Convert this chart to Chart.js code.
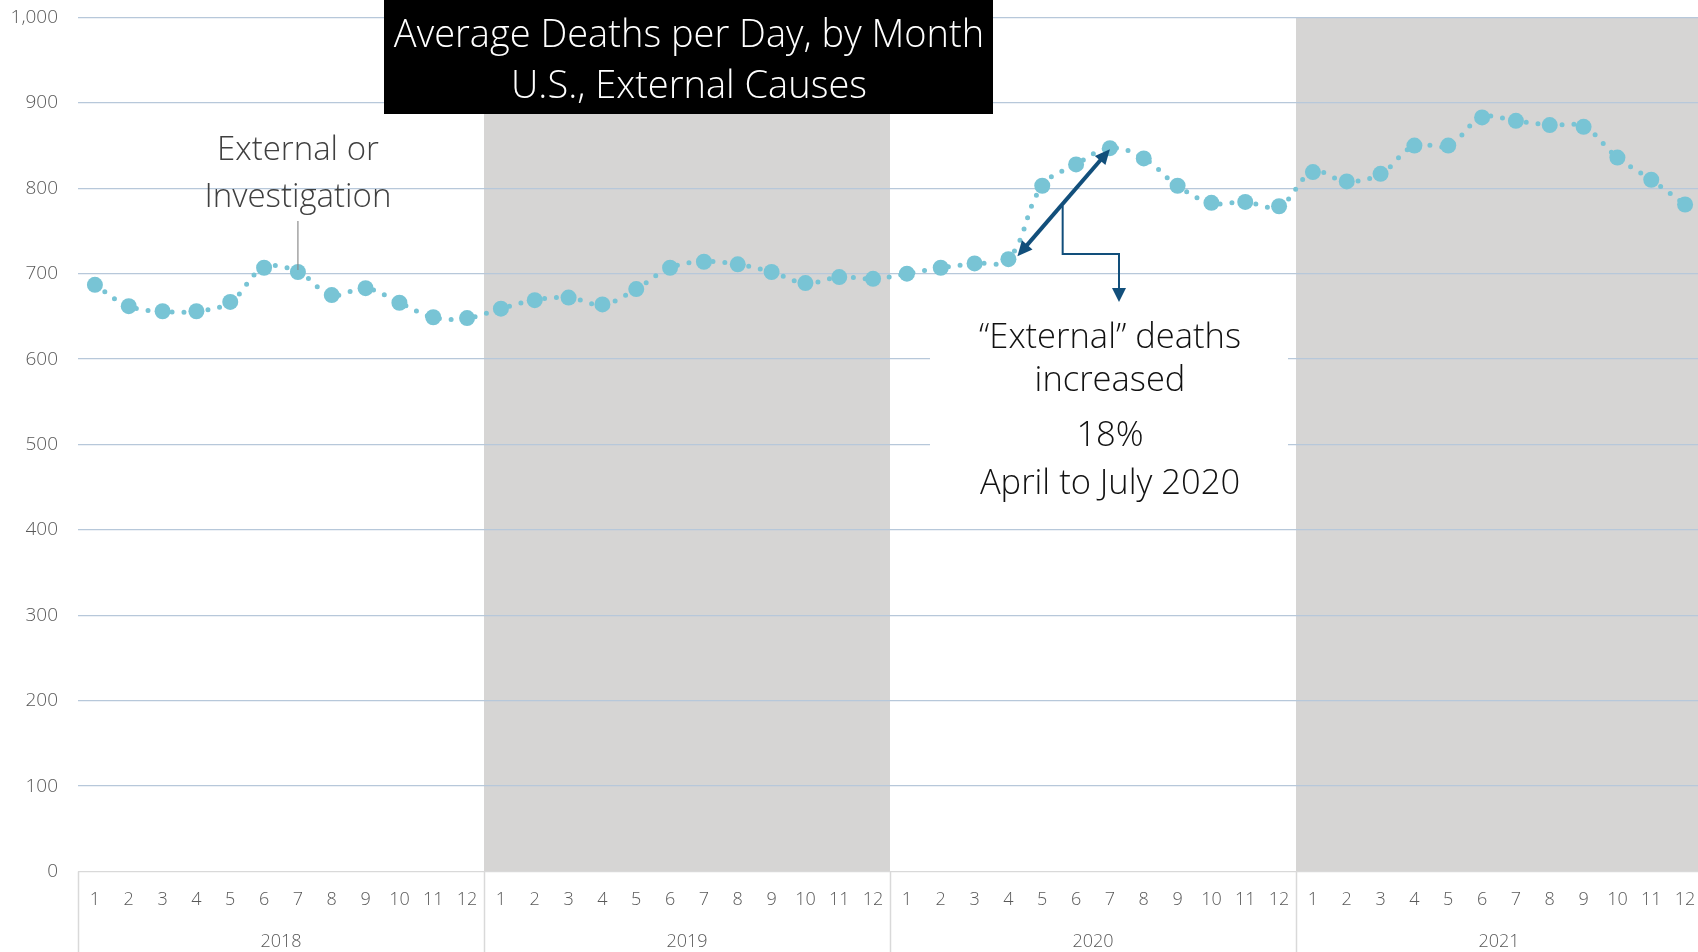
<!DOCTYPE html>
<html>
<head>
<meta charset="utf-8">
<script src="https://cdn.jsdelivr.net/npm/chart.js@4.4.1/dist/chart.umd.min.js"></script>
<style>
  html, body { margin: 0; padding: 0; background: #fff; overflow: hidden; }
  #wrap { width: 1698px; height: 952px; overflow: hidden; }
</style>
</head>
<body>
<div id="wrap"><canvas id="deathsChart" width="1702" height="952"></canvas></div>
<script>
const years = ['2018', '2019', '2020', '2021'];
const months = ['1', '2', '3', '4', '5', '6', '7', '8', '9', '10', '11', '12'];

// average deaths per day, external causes
const deaths2018 = [687, 662, 656, 656, 667, 707, 702, 675, 683, 666, 649, 648];
const deaths2019 = [659, 669, 672, 664, 682, 707, 714, 711, 702, 689, 696, 694];
const deaths2020 = [700, 707, 712, 717, 803, 828, 847, 835, 803, 783, 784, 779];
const deaths2021 = [819, 808, 817, 850, 850, 883, 879, 874, 872, 836, 810, 781];

const monthLabels = years.flatMap(() => months);
const deaths = [...deaths2018, ...deaths2019, ...deaths2020, ...deaths2021];

const shadedYears = ['2019', '2021'];
const titleLines = ['Average Deaths per Day, by Month', 'U.S., External Causes'];
const leftNote = ['External or', 'Investigation'];
const rightNote = ['\u201cExternal\u201d deaths', 'increased', '18%', 'April to July 2020'];

const FONT = '"Open Sans", "DejaVu Sans", sans-serif';
const lineColor = '#78c4d5';
const arrowColor = '#124f7b';

function arrowHead(ctx, tx, ty, ang, len, wid) {
    ctx.beginPath();
    ctx.moveTo(tx, ty);
    ctx.lineTo(tx - len * Math.cos(ang) + wid / 2 * Math.sin(ang), ty - len * Math.sin(ang) - wid / 2 * Math.cos(ang));
    ctx.lineTo(tx - len * Math.cos(ang) - wid / 2 * Math.sin(ang), ty - len * Math.sin(ang) + wid / 2 * Math.cos(ang));
    ctx.closePath();
    ctx.fill();
}

const decor = {
    id: 'decor',
    beforeDraw(chart) {
        const { ctx, chartArea: a, scales: { x } } = chart;
        const step = x.getPixelForValue(1) - x.getPixelForValue(0);
        ctx.save();
        ctx.fillStyle = '#d6d5d4';
        shadedYears.forEach(yr => {
            const i = years.indexOf(yr) * 12;
            const x0 = x.getPixelForValue(i) - step / 2;
            ctx.fillRect(x0, a.top, step * 12, a.bottom - a.top);
        });
        ctx.restore();
    },
    beforeDatasetsDraw(chart) {
        const { ctx } = chart;
        // white box behind the annotation text
        ctx.save();
        ctx.fillStyle = '#ffffff';
        ctx.fillRect(930, 318, 358, 195);
        ctx.restore();
    },
    afterDraw(chart) {
        const { ctx, chartArea: a, scales: { x, y } } = chart;
        const step = x.getPixelForValue(1) - x.getPixelForValue(0);
        ctx.save();

        // year separators under the axis
        ctx.strokeStyle = '#d9d9d9';
        ctx.lineWidth = 1.5;
        for (let k = 0; k <= years.length; k++) {
            const px = Math.round(x.getPixelForValue(k * 12) - step / 2) + 0.5;
            ctx.beginPath();
            ctx.moveTo(px, a.bottom);
            ctx.lineTo(px, chart.height);
            ctx.stroke();
        }

        // title box
        ctx.fillStyle = '#000';
        ctx.fillRect(384, 0, 609, 114);
        ctx.fillStyle = '#fff';
        ctx.font = '300 38px ' + FONT;
        ctx.textAlign = 'center';
        ctx.textBaseline = 'middle';
        ctx.fillText(titleLines[0], 689, 36);
        ctx.fillText(titleLines[1], 689, 87);

        // left note with leader line to July 2018
        const jx = x.getPixelForValue(6);
        const jy = y.getPixelForValue(deaths[6]);
        ctx.fillStyle = '#404040';
        ctx.font = '300 33px ' + FONT;
        ctx.fillText(leftNote[0], jx, 151);
        ctx.fillText(leftNote[1], jx, 198);
        ctx.strokeStyle = '#8c8c8c';
        ctx.lineWidth = 1.2;
        ctx.beginPath();
        ctx.moveTo(jx, 221);
        ctx.lineTo(jx, jy - 2);
        ctx.stroke();

        // double arrow April -> July 2020
        const ax = x.getPixelForValue(27) + 9, ay = y.getPixelForValue(deaths[27]) - 3;
        const bx = x.getPixelForValue(30), by = y.getPixelForValue(deaths[30]) + 1;
        const ang = Math.atan2(by - ay, bx - ax);
        const hl = 15;
        ctx.strokeStyle = arrowColor;
        ctx.fillStyle = arrowColor;
        ctx.lineWidth = 4;
        ctx.beginPath();
        ctx.moveTo(ax + hl * 0.8 * Math.cos(ang), ay + hl * 0.8 * Math.sin(ang));
        ctx.lineTo(bx - hl * 0.8 * Math.cos(ang), by - hl * 0.8 * Math.sin(ang));
        ctx.stroke();
        arrowHead(ctx, bx, by, ang, hl, 14);
        arrowHead(ctx, ax, ay, ang + Math.PI, hl, 14);

        // elbow connector down to the note
        const mx = (ax + bx) / 2 - 1, my = (ay + by) / 2 + 3;
        ctx.lineWidth = 2;
        ctx.beginPath();
        ctx.moveTo(mx, my);
        ctx.lineTo(mx, 254);
        ctx.lineTo(1119, 254);
        ctx.lineTo(1119, 290);
        ctx.stroke();
        arrowHead(ctx, 1119, 302, Math.PI / 2, 14, 14);

        // right note
        ctx.fillStyle = '#111';
        ctx.font = '300 34.5px ' + FONT;
        ctx.fillText(rightNote[0], 1110, 338);
        ctx.fillText(rightNote[1], 1110, 381);
        ctx.fillText(rightNote[2], 1110, 436);
        ctx.fillText(rightNote[3], 1110, 484);

        ctx.restore();
    }
};

const chart = new Chart(document.getElementById('deathsChart'), {
    type: 'line',
    data: {
        labels: monthLabels,
        datasets: [{
            label: 'External causes',
            data: deaths,
            borderColor: lineColor,
            backgroundColor: lineColor,
            borderWidth: 5,
            borderDash: [0, 12],
            borderCapStyle: 'round',
            tension: 0.4,
            pointRadius: 8,
            pointBorderWidth: 0,
            pointBackgroundColor: lineColor,
            fill: false
        }]
    },
    options: {
        responsive: false,
        animation: false,
        devicePixelRatio: 1,
        layout: { autoPadding: false, padding: { top: 17.5, right: 0, left: 0, bottom: 0 } },
        plugins: {
            legend: { display: false },
            tooltip: { enabled: false }
        },
        scales: {
            x: {
                type: 'category',
                position: 'bottom',
                offset: true,
                grid: { display: false, drawTicks: false },
                border: { display: false },
                ticks: {
                    autoSkip: false,
                    maxRotation: 0,
                    padding: 18,
                    color: '#595959',
                    font: { family: FONT, size: 18, weight: 300 }
                },
                afterFit: s => { s.height = 45; s.paddingLeft = 0; s.paddingRight = 0; }
            },
            x2: {
                type: 'category',
                position: 'bottom',
                labels: years,
                offset: true,
                grid: { display: false, drawTicks: false },
                border: { display: false },
                ticks: {
                    maxRotation: 0,
                    padding: 15,
                    color: '#595959',
                    font: { family: FONT, size: 18, weight: 300 }
                },
                afterFit: s => { s.height = 35.5; s.paddingLeft = 0; s.paddingRight = 0; }
            },
            y: {
                min: 0,
                max: 1000,
                ticks: {
                    stepSize: 100,
                    padding: 20,
                    color: '#595959',
                    font: { family: FONT, size: 19, weight: 300 }
                },
                grid: {
                    drawTicks: false,
                    lineWidth: 1.3,
                    color: c => c.tick && c.tick.value === 0 ? '#d9d9d9' : '#b7c8da'
                },
                border: { display: false },
                afterFit: s => { s.width = 78; s.paddingTop = 0; s.paddingBottom = 0; }
            }
        }
    },
    plugins: [decor]
});
</script>
</body>
</html>
